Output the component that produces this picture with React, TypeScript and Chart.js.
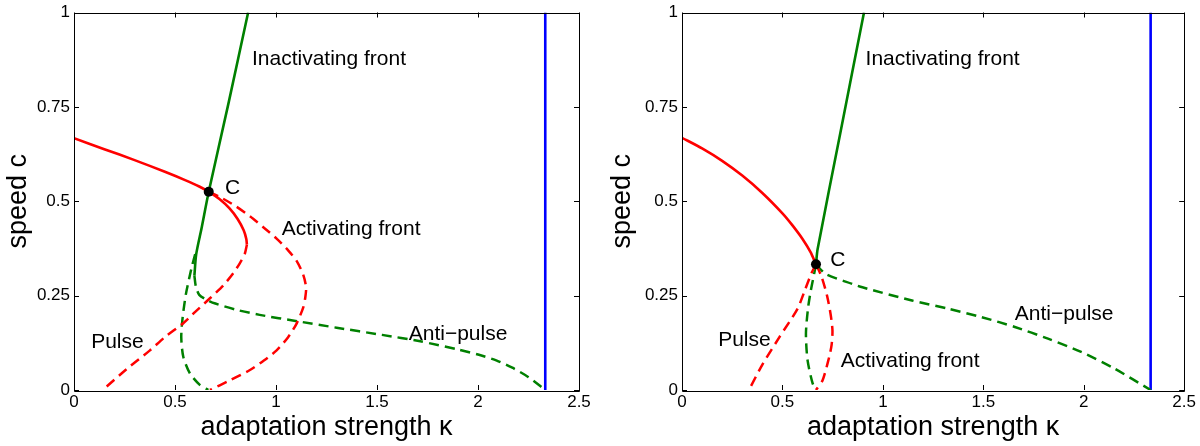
import React, { useEffect, useRef } from "react";
import { Chart, registerables } from "chart.js";

Chart.register(...registerables);

const FONT = "'Liberation Sans', Arial, Helvetica, sans-serif";

// ---- axes ----
const xTicks = [0, 0.5, 1, 1.5, 2, 2.5];
const xTickLabels = ["0", "0.5", "1", "1.5", "2", "2.5"];
const yTicks = [0, 0.25, 0.5, 0.75, 1];
const yTickLabels = ["0", "0.25", "0.5", "0.75", "1"];
const xTitle = "adaptation strength κ";
const yTitle = "speed c";

// ---- shared ----
const kappaCritical: number[][] = [[2.333, 0], [2.333, 1]];

// ---- left panel ----
const leftPulseStable: number[][] = [
  [0, 0.667], [0.15, 0.638], [0.3, 0.609], [0.45, 0.578], [0.55, 0.556], [0.62, 0.539], [0.667, 0.525],
  [0.72, 0.506], [0.77, 0.481], [0.81, 0.453], [0.84, 0.423], [0.853, 0.4], [0.856, 0.385],
];
const leftPulseUnstable: number[][] = [
  [0.856, 0.385], [0.845, 0.36], [0.82, 0.335], [0.789, 0.31], [0.739, 0.277], [0.673, 0.243],
  [0.6, 0.207], [0.541, 0.177], [0.45, 0.14], [0.376, 0.105], [0.26, 0.055], [0.142, 0],
];
const leftActivating: number[][] = [
  [0.667, 0.525], [0.72, 0.512], [0.8, 0.487], [0.871, 0.46], [0.94, 0.43], [1.003, 0.401],
  [1.06, 0.37], [1.102, 0.342], [1.135, 0.305], [1.149, 0.272], [1.145, 0.245], [1.135, 0.219],
  [1.102, 0.176], [1.06, 0.14], [1.003, 0.105], [0.94, 0.078], [0.871, 0.053], [0.77, 0.025], [0.673, 0],
];
const leftInactivating: number[][] = [
  [0.862, 1], [0.765, 0.76], [0.667, 0.525], [0.632, 0.43], [0.605, 0.36], [0.596, 0.303],
];
const leftLoop: number[][] = [
  [0.6, 0.36], [0.585, 0.33], [0.572, 0.3], [0.554, 0.254], [0.538, 0.193], [0.531, 0.14],
  [0.541, 0.088], [0.574, 0.044], [0.624, 0.013], [0.665, 0],
];
const leftAntiPulse: number[][] = [
  [0.596, 0.303], [0.603, 0.275], [0.62, 0.252], [0.66, 0.238], [0.7, 0.229], [0.8, 0.213],
  [0.919, 0.199], [1.108, 0.182], [1.3, 0.165], [1.525, 0.146], [1.714, 0.129], [1.903, 0.107],
  [2.0, 0.094], [2.093, 0.078], [2.17, 0.059], [2.25, 0.034], [2.333, 0],
];
const leftPointC: number[][] = [[0.667, 0.525]];

// ---- right panel ----
const rightPulseStable: number[][] = [
  [0, 0.668], [0.1, 0.64], [0.2, 0.607], [0.3, 0.568], [0.4, 0.522], [0.5, 0.468],
  [0.55, 0.436], [0.6, 0.4], [0.64, 0.365], [0.667, 0.333],
];
const rightPulseUnstable: number[][] = [
  [0.667, 0.333], [0.645, 0.31], [0.61, 0.262], [0.575, 0.215], [0.485, 0.14], [0.403, 0.07], [0.333, 0],
];
const rightActivating: number[][] = [
  [0.667, 0.333], [0.695, 0.3], [0.722, 0.25], [0.74, 0.2], [0.749, 0.158], [0.745, 0.12],
  [0.733, 0.088], [0.7, 0.026], [0.667, 0],
];
const rightInactivating: number[][] = [
  [0.667, 0.333], [0.675, 0.373], [0.786, 0.675], [0.906, 1],
];
const rightLoop: number[][] = [
  [0.667, 0.333], [0.655, 0.3], [0.64, 0.26], [0.627, 0.215], [0.617, 0.149], [0.625, 0.079],
  [0.65, 0.018], [0.667, 0],
];
const rightAntiPulse: number[][] = [
  [0.667, 0.333], [0.716, 0.307], [0.848, 0.281], [0.898, 0.272], [1.145, 0.237], [1.327, 0.215],
  [1.492, 0.193], [1.657, 0.167], [1.822, 0.136], [1.987, 0.101], [2.152, 0.057], [2.333, 0],
];
const rightPointC: number[][] = [[0.667, 0.333]];

// ---- annotations ----
type Note = { text: string; x: number; y: number };
const leftNotes: Note[] = [
  { text: "Inactivating front", x: 0.881, y: 0.876 },
  { text: "C", x: 0.748, y: 0.534 },
  { text: "Activating front", x: 1.028, y: 0.426 },
  { text: "Pulse", x: 0.085, y: 0.127 },
  { text: "Anti\u2212pulse", x: 1.657, y: 0.148 },
];
const rightNotes: Note[] = [
  { text: "Inactivating front", x: 0.914, y: 0.877 },
  { text: "C", x: 0.738, y: 0.344 },
  { text: "Pulse", x: 0.18, y: 0.133 },
  { text: "Activating front", x: 0.79, y: 0.075 },
  { text: "Anti\u2212pulse", x: 1.657, y: 0.202 },
];

const RED = "#ff0000";
const GREEN = "#008000";
const BLUE = "#0000ff";

const pts = (arr: number[][]) => arr.map(([x, y]) => ({ x, y }));

const curve = (arr: number[][], color: string, dashed: boolean, width = 2.5) => ({
  data: pts(arr),
  showLine: true,
  borderColor: color,
  backgroundColor: color,
  borderWidth: width,
  borderDash: dashed ? [10, 6] : [],
  pointRadius: 0,
  pointHoverRadius: 0,
  tension: 0.25,
  fill: false,
});

const framePlugin = {
  id: "frame",
  afterDraw(chart: any) {
    const { ctx, chartArea, scales } = chart;
    const { left, right, top, bottom } = chartArea;
    const sx = scales.x;
    const sy = scales.y;
    ctx.save();
    ctx.strokeStyle = "#000";
    ctx.lineWidth = 1;
    ctx.setLineDash([]);
    ctx.beginPath();
    ctx.rect(Math.round(left) + 0.5, Math.round(top) + 0.5, Math.round(right - left), Math.round(bottom - top));
    const tl = 5;
    xTicks.forEach((v) => {
      const px = Math.round(sx.getPixelForValue(v)) + 0.5;
      ctx.moveTo(px, bottom);
      ctx.lineTo(px, bottom - tl);
      ctx.moveTo(px, top);
      ctx.lineTo(px, top + tl);
    });
    yTicks.forEach((v) => {
      const py = Math.round(sy.getPixelForValue(v)) + 0.5;
      ctx.moveTo(left, py);
      ctx.lineTo(left + tl, py);
      ctx.moveTo(right, py);
      ctx.lineTo(right - tl, py);
    });
    ctx.stroke();
    ctx.restore();
  },
};

const notesPlugin = {
  id: "notes",
  afterDatasetsDraw(chart: any, _args: any, opts: any) {
    const { ctx, scales } = chart;
    const notes: Note[] = opts.notes || [];
    ctx.save();
    ctx.fillStyle = "#000";
    ctx.font = `21px ${FONT}`;
    ctx.textAlign = "left";
    ctx.textBaseline = "middle";
    notes.forEach((n) => {
      ctx.fillText(n.text, scales.x.getPixelForValue(n.x), scales.y.getPixelForValue(n.y));
    });
    ctx.restore();
  },
};

type PanelProps = {
  datasets: any[];
  notes: Note[];
  left: number;
  yAxisWidth: number;
  padRight: number;
  yTitlePad: number;
};

function Panel({ datasets, notes, left, yAxisWidth, padRight, yTitlePad }: PanelProps) {
  const ref = useRef<HTMLCanvasElement>(null);
  useEffect(() => {
    if (!ref.current) return;
    const chart = new Chart(ref.current, {
      type: "scatter",
      data: { datasets },
      plugins: [framePlugin, notesPlugin],
      options: {
        animation: false,
        responsive: false,
        devicePixelRatio: 1,
        events: [],
        layout: { padding: { left: 0, right: padRight, top: 10, bottom: 0 } },
        plugins: {
          legend: { display: false },
          tooltip: { enabled: false },
          notes: { notes },
        } as any,
        scales: {
          x: {
            type: "linear",
            min: 0,
            max: 2.5,
            afterBuildTicks: (s: any) => {
              s.ticks = xTicks.map((v) => ({ value: v }));
            },
            afterFit: (s: any) => {
              s.height = 56;
            },
            ticks: {
              autoSkip: false,
              maxRotation: 0,
              padding: 4,
              color: "#000",
              font: { family: FONT, size: 17, lineHeight: 1.0 },
              callback: (_v: any, i: number) => xTickLabels[i],
            },
            grid: { display: false, drawTicks: false },
            border: { display: false },
            title: {
              display: true,
              text: xTitle,
              color: "#000",
              font: { family: FONT, size: 27, lineHeight: 1.2 },
              padding: { top: 0, bottom: 2 },
            },
          },
          y: {
            type: "linear",
            min: 0,
            max: 1,
            afterBuildTicks: (s: any) => {
              s.ticks = yTicks.map((v) => ({ value: v }));
            },
            afterFit: (s: any) => {
              s.width = yAxisWidth;
            },
            ticks: {
              autoSkip: false,
              padding: 4,
              color: "#000",
              font: { family: FONT, size: 17, lineHeight: 1.0 },
              callback: (_v: any, i: number) => yTickLabels[i],
            },
            grid: { display: false, drawTicks: false },
            border: { display: false },
            title: {
              display: true,
              text: yTitle,
              color: "#000",
              font: { family: FONT, size: 27, lineHeight: 1.2 },
              padding: { top: yTitlePad, bottom: 0 },
            },
          },
        },
      } as any,
    });
    return () => chart.destroy();
  }, []);
  return (
    <canvas
      ref={ref}
      width={600}
      height={446}
      style={{ position: "absolute", left, top: 0, width: 600, height: 446 }}
    />
  );
}

const dot = (arr: number[][]) => ({
  data: pts(arr),
  showLine: false,
  pointRadius: 5,
  pointHoverRadius: 5,
  pointBackgroundColor: "#000",
  pointBorderColor: "#000",
  pointBorderWidth: 0,
});

export default function App() {
  const leftSets = [
    dot(leftPointC),
    curve(leftPulseStable, RED, false, 2.6),
    curve(leftInactivating, GREEN, false, 2.6),
    curve(leftPulseUnstable, RED, true),
    curve(leftActivating, RED, true),
    curve(leftLoop, GREEN, true),
    curve(leftAntiPulse, GREEN, true),
    { ...curve(kappaCritical, BLUE, false, 2.6), tension: 0 },
  ];
  const rightSets = [
    dot(rightPointC),
    curve(rightPulseStable, RED, false, 2.6),
    curve(rightInactivating, GREEN, false, 2.6),
    curve(rightPulseUnstable, RED, true),
    curve(rightActivating, RED, true),
    curve(rightLoop, GREEN, true),
    curve(rightAntiPulse, GREEN, true),
    { ...curve(kappaCritical, BLUE, false, 2.6), tension: 0 },
  ];
  return (
    <div style={{ position: "fixed", left: 0, top: 0, width: 1200, height: 446, background: "#fff", overflow: "hidden" }}>
      <Panel datasets={leftSets} notes={leftNotes} left={0} yAxisWidth={74} padRight={21} yTitlePad={2} />
      <Panel datasets={rightSets} notes={rightNotes} left={600} yAxisWidth={82} padRight={13} yTitlePad={6} />
    </div>
  );
}
